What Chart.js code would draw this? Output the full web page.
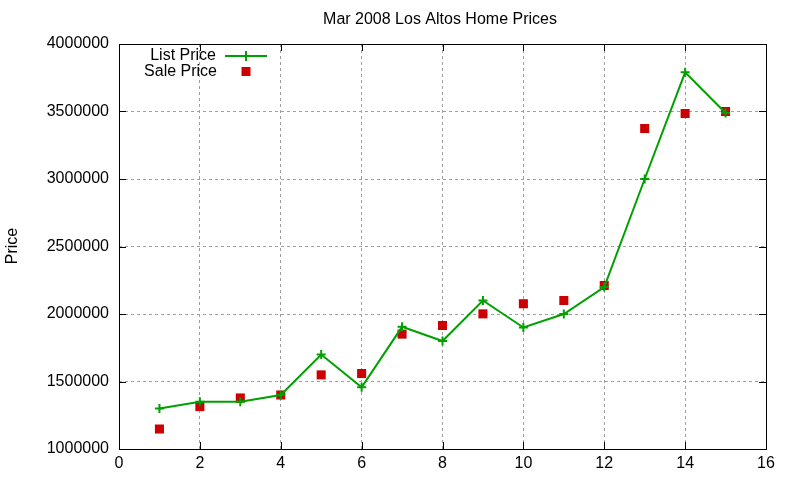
<!DOCTYPE html>
<html>
<head>
<meta charset="utf-8">
<script src="https://cdn.jsdelivr.net/npm/chart.js@4.4.1/dist/chart.umd.min.js"></script>
<style>
html,body{margin:0;padding:0;background:#fff;}
#wrap{width:800px;height:480px;}
</style>
</head>
<body>
<div id="wrap"><canvas id="c" width="800" height="480"></canvas></div>
<script>
const chartTitle = "Mar 2008 Los Altos Home Prices";
const yTitle = "Price";
const xValues = [1,2,3,4,5,6,7,8,9,10,11,12,13,14,15];
const listPrice = [1300000,1350000,1350000,1400000,1700000,1457000,1905000,1800000,2100000,1900000,2000000,2200000,3000000,3790000,3489000];
const salePrice = [1148000,1314000,1378000,1400000,1549000,1559000,1851000,1915000,2001000,2076000,2100000,2211000,3374000,3485000,3500000];
const xTicks = [0,2,4,6,8,10,12,14,16];
const yTicks = [1000000,1500000,2000000,2500000,3000000,3500000,4000000];
const seriesNames = ["List Price","Sale Price"];

const FONT = '"Liberation Sans", Arial, sans-serif';
const GREEN = '#00a000';
const RED = '#cc0000';

const decor = {
  id: 'decor',
  afterDraw(chart) {
    const ctx = chart.ctx;
    const a = chart.chartArea;
    const xs = chart.scales.x, ys = chart.scales.y;
    ctx.save();
    // border
    ctx.strokeStyle = '#000';
    ctx.lineWidth = 1;
    ctx.setLineDash([]);
    ctx.strokeRect(Math.round(a.left)+0.5, Math.round(a.top)+0.5, Math.round(a.right-a.left), Math.round(a.bottom-a.top));
    // inward ticks
    ctx.beginPath();
    xTicks.forEach(v => {
      const px = Math.round(xs.getPixelForValue(v)) + 0.5;
      ctx.moveTo(px, a.bottom); ctx.lineTo(px, a.bottom - 7);
      ctx.moveTo(px, a.top); ctx.lineTo(px, a.top + 7);
    });
    yTicks.forEach(v => {
      const py = Math.round(ys.getPixelForValue(v)) + 0.5;
      ctx.moveTo(a.left, py); ctx.lineTo(a.left + 7, py);
      ctx.moveTo(a.right, py); ctx.lineTo(a.right - 7, py);
    });
    ctx.stroke();
    // title
    ctx.fillStyle = '#000';
    ctx.font = '16px ' + FONT;
    ctx.textAlign = 'center';
    ctx.textBaseline = 'middle';
    ctx.fillText(chartTitle, 440, 20);
    // y title
    ctx.save();
    ctx.translate(13, 246);
    ctx.rotate(-Math.PI/2);
    ctx.font = '16px ' + FONT;
    ctx.fillText(yTitle, 0, 0);
    ctx.restore();
    // legend
    ctx.font = '16px ' + FONT;
    ctx.textAlign = 'right';
    ctx.fillText(seriesNames[0], 216, 56);
    ctx.fillText(seriesNames[1], 217, 72);
    ctx.strokeStyle = GREEN;
    ctx.lineWidth = 2;
    ctx.beginPath();
    ctx.moveTo(225, 56); ctx.lineTo(267, 56);
    ctx.moveTo(246, 51); ctx.lineTo(246, 61);
    ctx.stroke();
    ctx.fillStyle = RED;
    ctx.fillRect(241.5, 67, 9, 9);
    ctx.restore();
  }
};

new Chart(document.getElementById('c'), {
  type: 'line',
  data: {
    datasets: [
      {
        label: seriesNames[0],
        data: xValues.map((x,i) => ({x: x, y: listPrice[i]})),
        borderColor: GREEN,
        backgroundColor: GREEN,
        borderWidth: 2,
        pointStyle: 'cross',
        pointRadius: 4.5,
        pointBorderWidth: 2,
        pointBorderColor: GREEN,
        tension: 0,
        fill: false,
        order: 1
      },
      {
        label: seriesNames[1],
        data: xValues.map((x,i) => ({x: x, y: salePrice[i]})),
        showLine: false,
        borderColor: RED,
        backgroundColor: RED,
        pointStyle: 'rect',
        pointRadius: 6.4,
        pointBorderWidth: 0,
        pointBackgroundColor: RED,
        order: 2
      }
    ]
  },
  options: {
    responsive: false,
    animation: false,
    devicePixelRatio: 1,
    layout: { padding: { top: 44, right: 34, left: 0, bottom: 0 } },
    plugins: {
      legend: { display: false },
      title: { display: false },
      tooltip: { enabled: false }
    },
    scales: {
      x: {
        type: 'linear',
        min: 0, max: 16,
        afterBuildTicks: s => { s.ticks = xTicks.map(v => ({value: v})); },
        afterFit: s => { s.height = 31; },
        ticks: { color: '#000', font: { family: FONT, size: 16 }, padding: 5, maxRotation: 0, callback: v => String(v) },
        grid: { color: '#a0a0a0', lineWidth: 1, drawTicks: false },
        border: { display: false, dash: [3, 3] }
      },
      y: {
        type: 'linear',
        min: 1000000, max: 4000000,
        afterBuildTicks: s => { s.ticks = yTicks.map(v => ({value: v})); },
        afterFit: s => { s.width = 119; },
        ticks: { color: '#000', font: { family: FONT, size: 16 }, padding: 10, callback: v => String(v) },
        grid: { color: '#a0a0a0', lineWidth: 1, drawTicks: false },
        border: { display: false, dash: [3, 3] }
      }
    }
  },
  plugins: [decor]
});
</script>
</body>
</html>
